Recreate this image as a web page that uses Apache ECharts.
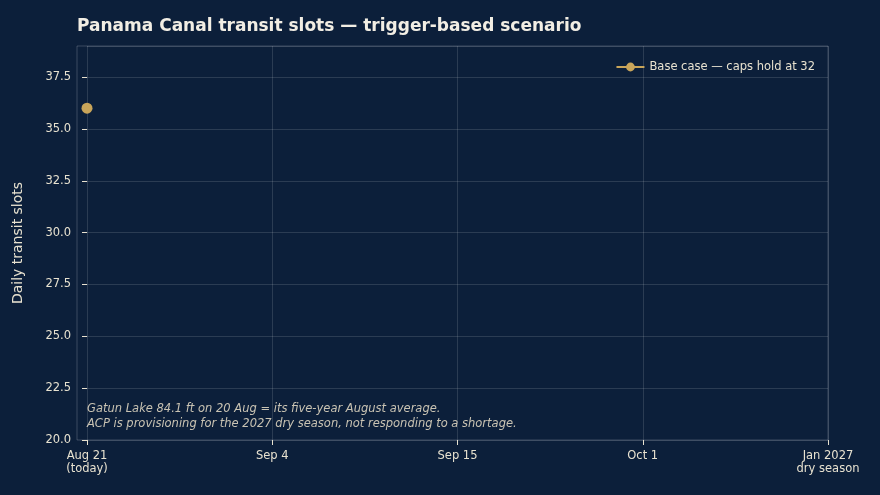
<!DOCTYPE html>
<html><head><meta charset="utf-8">
<script src="https://cdn.jsdelivr.net/npm/echarts@6/dist/echarts.min.js"></script>
<style>html,body{margin:0;background:#0c1f3a}#c{width:880px;height:495px}</style>
</head><body><div id="c"></div>
<script>
const xTickLabels = ['Aug 21\n(today)', 'Sep 4', 'Sep 15', 'Oct 1', 'Jan 2027\ndry season'];
const baseCaseX = [0];
const baseCaseY = [36];
const seriesName = 'Base case — caps hold at 32';
const note = 'Gatun Lake 84.1 ft on 20 Aug = its five-year August average.\nACP is provisioning for the 2027 dry season, not responding to a shortage.';
const chart = echarts.init(document.getElementById('c'));
const gold = '#c9a55a', txt = '#e8e2d0', grid = 'rgba(255,255,255,0.13)';
chart.setOption({
  backgroundColor: '#0c1f3a',
  animation: false,
  title: { text: 'Panama Canal transit slots — trigger-based scenario', left: 72, top: 13,
    textStyle: { color: '#f2eee4', fontSize: 17, fontWeight: 'bold', fontFamily: 'DejaVu Sans' } },
  legend: { right: 60, top: 56, itemWidth: 28, itemHeight: 11, itemGap: 6,
    textStyle: { color: txt, fontSize: 11.5, fontFamily: 'DejaVu Sans' } },
  grid: { left: 87, right: 52, top: 46, bottom: 55 },
  graphic: [
    { type: 'rect', shape: { x: 77, y: 46, width: 751, height: 394 }, style: { fill: null, stroke: 'rgba(255,255,255,0.2)', lineWidth: 1 }, silent: true },
    { type: 'text', left: 87, top: 402, style: { text: note, fill: '#c9c3b3', font: 'italic 11.5px DejaVu Sans', lineHeight: 15 } }
  ],
  xAxis: { type: 'value', min: 0, max: 4, interval: 1,
    axisLine: { show: false }, axisTick: { show: true, length: 5, lineStyle: { color: txt } },
    splitLine: { lineStyle: { color: grid } },
    axisLabel: { color: txt, fontSize: 11.5, fontFamily: 'DejaVu Sans', lineHeight: 13, margin: 10, formatter: v => xTickLabels[v] || '' } },
  yAxis: { type: 'value', min: 20, max: 39, interval: 2.5, offset: 10,
    name: 'Daily transit slots', nameLocation: 'middle', nameGap: 52,
    nameTextStyle: { color: txt, fontSize: 14, fontFamily: 'DejaVu Sans' },
    axisLine: { show: false }, axisTick: { show: true, length: 5, lineStyle: { color: txt } },
    splitLine: { lineStyle: { color: grid } },
    axisLabel: { color: txt, fontSize: 11.5, fontFamily: 'DejaVu Sans', margin: 6, showMaxLabel: false, formatter: v => v === 39 ? '' : v.toFixed(1) } },
  series: [{ name: seriesName, type: 'line', data: baseCaseX.map((x, i) => [x, baseCaseY[i]]),
    symbol: 'circle', symbolSize: 11, itemStyle: { color: gold }, lineStyle: { color: gold, width: 3.5 } }]
});
</script></body></html>
